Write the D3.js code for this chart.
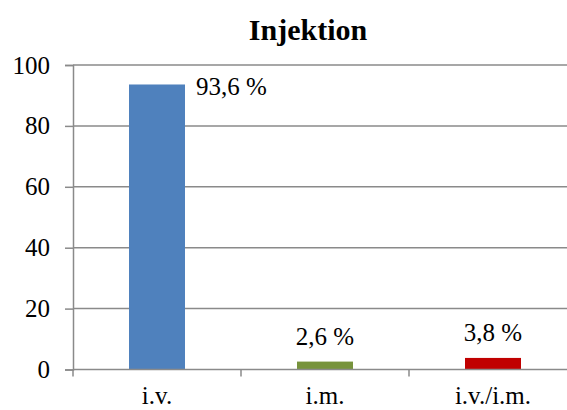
<!DOCTYPE html>
<html>
<head>
<meta charset="utf-8">
<script src="https://cdn.jsdelivr.net/npm/d3@7"></script>
<style>
  html, body { margin: 0; padding: 0; background: #fff; }
  svg { display: block; }
</style>
</head>
<body>
<svg id="chart" width="567" height="410"></svg>
<script>
const categories = ["i.v.", "i.m.", "i.v./i.m."];
const values = [93.6, 2.6, 3.8];
const valueLabels = ["93,6 %", "2,6 %", "3,8 %"];
const colors = ["#4F81BD", "#77933C", "#C00000"];
const yTicks = [0, 20, 40, 60, 80, 100];
const title = "Injektion";

(function () {
const FONT = "'Liberation Serif', 'Times New Roman', Times, 'DejaVu Serif', serif";
const svg = d3.select("#chart");
const pLeft = 73, pRight = 577, pTop = 65, pBottom = 369.5;

const x = d3.scaleBand().domain(categories).range([pLeft, pRight]).padding(0);
const y = d3.scaleLinear().domain([0, 100]).range([pBottom, pTop]);
const barW = x.bandwidth() / 3;

// title
svg.append("text")
  .attr("x", 308).attr("y", 39.5)
  .attr("text-anchor", "middle")
  .style("font-family", FONT)
  .style("font-size", "30px").style("font-weight", "bold")
  .attr("fill", "#000")
  .text(title);

// gridlines
svg.append("g")
  .selectAll("line")
  .data(yTicks.filter(d => d > 0))
  .join("line")
  .attr("x1", pLeft).attr("x2", pRight)
  .attr("y1", d => y(d)).attr("y2", d => y(d))
  .attr("stroke", "#8a8a8a").attr("stroke-width", 1.5);

// bars
svg.append("g")
  .selectAll("rect")
  .data(categories)
  .join("rect")
  .attr("x", d => x(d) + x.bandwidth() / 2 - barW / 2)
  .attr("width", barW)
  .attr("y", (d, i) => y(values[i]))
  .attr("height", (d, i) => pBottom - y(values[i]))
  .attr("fill", (d, i) => colors[i]);

// y axis
const yAxis = d3.axisLeft(y).tickValues(yTicks).tickSize(8).tickPadding(15).tickFormat(d3.format("d"));
const gy = svg.append("g").attr("transform", `translate(${pLeft},0)`).call(yAxis);
gy.attr("font-family", null).attr("font-size", null);
gy.select(".domain").attr("stroke", "#8a8a8a").attr("stroke-width", 1.5);
gy.selectAll(".tick line").attr("stroke", "#8a8a8a").attr("stroke-width", 1.5);
gy.selectAll(".tick text").style("font-size", "25px").style("font-family", FONT).attr("fill", "#000");

// x axis line
svg.append("line")
  .attr("x1", pLeft).attr("x2", pRight)
  .attr("y1", pBottom).attr("y2", pBottom)
  .attr("stroke", "#8a8a8a").attr("stroke-width", 1.5);

// x category ticks (at band boundaries)
svg.append("g")
  .selectAll("line")
  .data(categories.concat(["end"]))
  .join("line")
  .attr("x1", (d, i) => pLeft + i * x.step())
  .attr("x2", (d, i) => pLeft + i * x.step())
  .attr("y1", pBottom).attr("y2", pBottom + 7)
  .attr("stroke", "#8a8a8a").attr("stroke-width", 1.5);

// category labels
svg.append("g")
  .selectAll("text")
  .data(categories)
  .join("text")
  .attr("x", d => x(d) + x.bandwidth() / 2)
  .attr("y", 404)
  .attr("text-anchor", "middle")
  .style("font-family", FONT)
  .style("font-size", "25px")
  .attr("fill", "#000")
  .text(d => d);

// value labels
svg.append("g")
  .selectAll("text")
  .data(categories)
  .join("text")
  .attr("x", (d, i) => values[i] > 90 ? x(d) + x.bandwidth() / 2 + barW / 2 + 11 : x(d) + x.bandwidth() / 2)
  .attr("y", (d, i) => values[i] > 90 ? y(values[i]) + 10.5 : y(values[i]) - 17)
  .attr("text-anchor", (d, i) => values[i] > 90 ? "start" : "middle")
  .style("font-family", FONT)
  .style("font-size", "25px")
  .attr("fill", "#000")
  .text((d, i) => valueLabels[i]);
})();
</script>
</body>
</html>
